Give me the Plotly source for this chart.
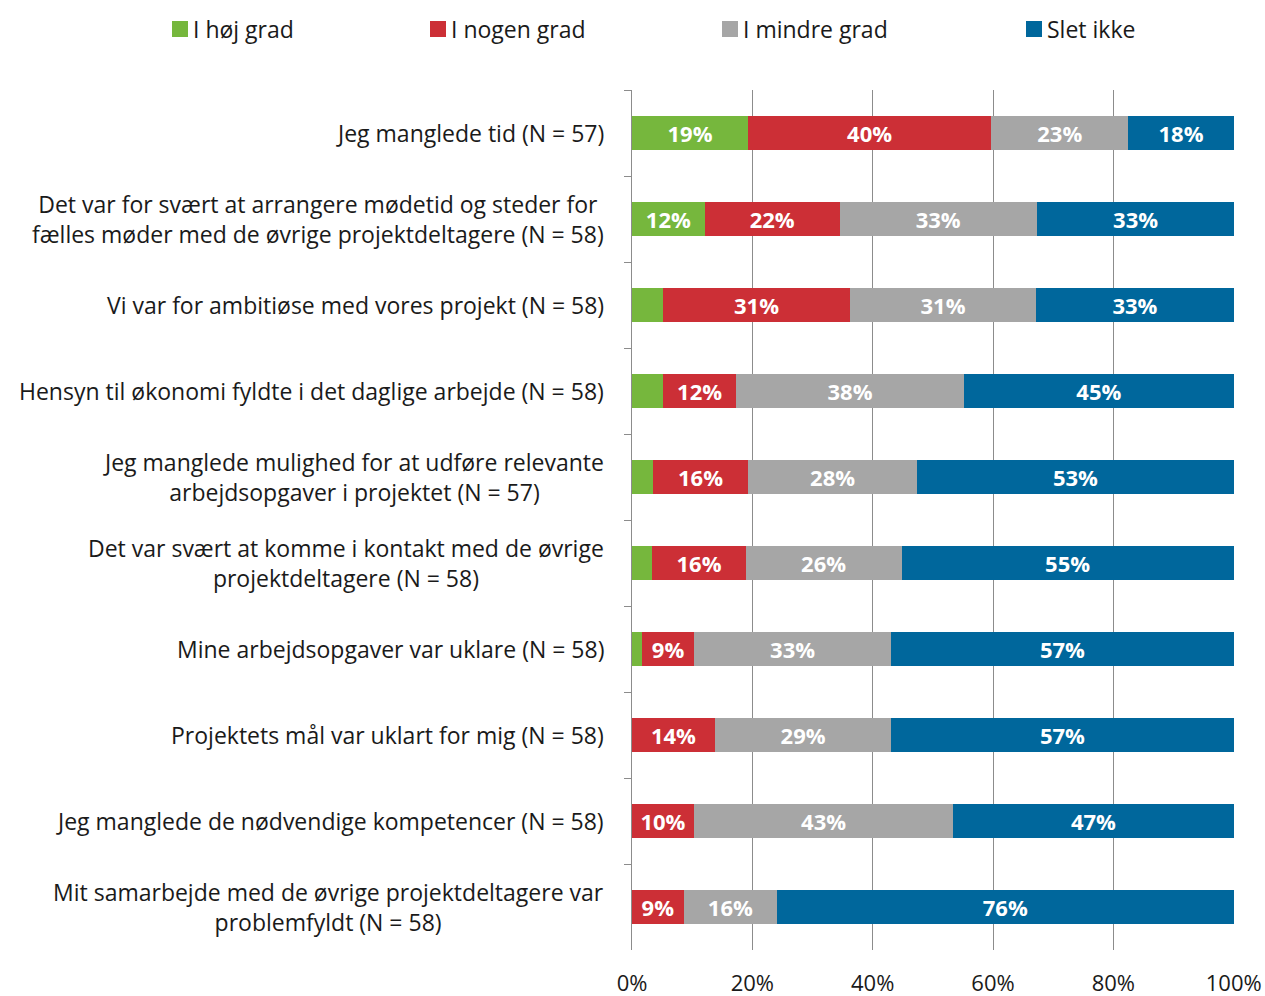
import plotly.graph_objects as go

# Survey items (top to bottom)
categories = [
    "Jeg manglede tid (N = 57)",
    "Det var for svært at arrangere mødetid og steder for<br>fælles møder med de øvrige projektdeltagere (N = 58)",
    "Vi var for ambitiøse med vores projekt (N = 58)",
    "Hensyn til økonomi fyldte i det daglige arbejde (N = 58)",
    "Jeg manglede mulighed for at udføre relevante<br>arbejdsopgaver i projektet (N = 57)",
    "Det var svært at komme i kontakt med de øvrige<br>projektdeltagere (N = 58)",
    "Mine arbejdsopgaver var uklare (N = 58)",
    "Projektets mål var uklart for mig (N = 58)",
    "Jeg manglede de nødvendige kompetencer (N = 58)",
    "Mit samarbejde med de øvrige projektdeltagere var<br>problemfyldt (N = 58)",
]

# Shares in percent per answer option
hoej_grad = [19.3, 12.1, 5.2, 5.2, 3.5, 3.4, 1.7, 0.0, 0.0, 0.0]
nogen_grad = [40.4, 22.4, 31.0, 12.1, 15.8, 15.5, 8.6, 13.8, 10.3, 8.6]
mindre_grad = [22.8, 32.8, 31.0, 37.9, 28.1, 25.9, 32.8, 29.3, 43.1, 15.5]
slet_ikke = [17.5, 32.8, 32.8, 44.8, 52.6, 55.2, 56.9, 56.9, 46.6, 75.9]

series = [
    ("I høj grad", hoej_grad, "#76B73D"),
    ("I nogen grad", nogen_grad, "#CC2F36"),
    ("I mindre grad", mindre_grad, "#A6A6A6"),
    ("Slet ikke", slet_ikke, "#00679C"),
]

FONT = "'Open Sans', Lato, sans-serif"

# plot area in pixels (used to place the hand-made legend)
W, H = 1265, 996
L, R, T, B = 632, 31, 90, 46
pw, ph = W - L - R, H - T - B


def px_x(x):
    return (x - L) / pw


def px_y(y):
    return (H - B - y) / ph


fig = go.Figure()

for name, vals, color in series:
    fig.add_trace(go.Bar(
        name=name,
        y=categories,
        x=[v / 100 for v in vals],
        orientation="h",
        marker=dict(color=color, line=dict(width=0)),
        text=[f"{v:.0f}%" if v >= 8 else "" for v in vals],
        textposition="inside",
        insidetextanchor="middle",
        textangle=0,
        constraintext="none",
        textfont=dict(family=FONT, size=22, color="white", weight="bold"),
        showlegend=False,
        hovertemplate="%{y}<br>" + name + ": %{x:.0%}<extra></extra>",
    ))

# category labels: right edge at the axis, lines centred like Excel
for cat in categories:
    fig.add_annotation(
        x=0, xref="paper", xshift=-26,
        y=cat, yref="y",
        text=cat,
        showarrow=False,
        xanchor="right", align="center",
        font=dict(family=FONT, size=23, color="#1a1a1a"),
    )

# legend drawn by hand across the top
legend_x = [172, 430, 722, 1026]
for (name, _, color), lx in zip(series, legend_x):
    fig.add_shape(
        type="rect", xref="paper", yref="paper",
        x0=px_x(lx), x1=px_x(lx + 16),
        y0=px_y(37), y1=px_y(21),
        fillcolor=color, line=dict(width=0),
    )
    fig.add_annotation(
        x=px_x(lx + 19), xref="paper",
        y=px_y(29), yref="paper",
        text=name, showarrow=False,
        xanchor="left", yanchor="middle",
        font=dict(family=FONT, size=23, color="#1a1a1a"),
    )

fig.update_layout(
    barmode="stack",
    bargap=0.6,
    width=W, height=H,
    margin=dict(l=L, r=R, t=T, b=B, pad=0, autoexpand=False),
    plot_bgcolor="white",
    paper_bgcolor="white",
    font=dict(family=FONT, size=22, color="#1a1a1a"),
    xaxis=dict(
        range=[0, 1.0005],
        tickvals=[0, 0.2, 0.4, 0.6, 0.8, 1.0],
        tickformat=".0%",
        showgrid=True, gridcolor="#8c8c8c", gridwidth=1,
        zeroline=False, showline=False,
        ticks="", ticklabelstandoff=18,
        automargin=False,
        tickfont=dict(family=FONT, size=22, color="#1a1a1a"),
    ),
    yaxis=dict(
        autorange="reversed",
        showticklabels=False,
        automargin=False,
        showline=True, linecolor="#8c8c8c", linewidth=1,
        ticks="outside", tickson="boundaries", ticklen=7, tickcolor="#8c8c8c",
        showgrid=False,
    ),
)

fig.write_html(
    "out.html",
    config={"displayModeBar": False},
    post_script="document.body.style.margin='0';document.body.style.overflow='hidden';",
)
